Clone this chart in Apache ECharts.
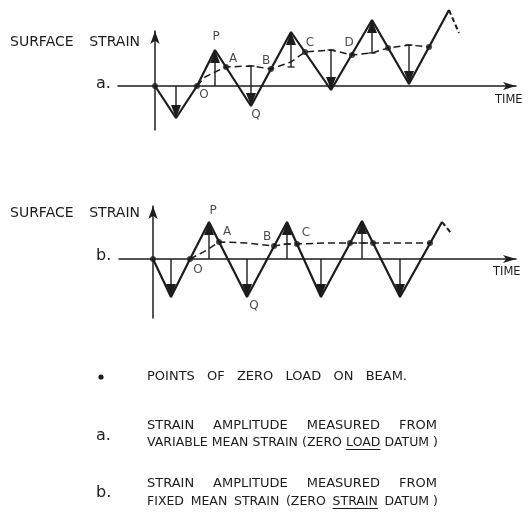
<!DOCTYPE html>
<html><head><meta charset="utf-8">
<script src="https://cdn.jsdelivr.net/npm/echarts@6/dist/echarts.min.js"></script>
<style>html,body{margin:0;padding:0;background:#fff}#c{width:528px;height:527px}</style>
</head><body><div id="c"></div>
<script>
// ---- Panel a : strain amplitude from variable mean strain (zero load datum) ----
const waveA = [[0,0],[2.1,-3.2],[4.2,0],[6.0,3.6],[9.6,-2.0],[13.6,5.4],[17.6,-0.4],[21.7,6.6],[25.4,0.2],[29.4,7.6]];
const waveTailA = [[29.4,7.6],[30.4,5.3]];
const meanA = [[4.2,0],[5.0,0.9],[6.0,1.4],[7.1,1.9],[9.6,2.0],[11.6,1.7],[13.6,2.4],[15.0,3.4],[17.6,3.6],[19.7,3.1],[21.7,3.3],[23.3,3.8],[25.4,4.1],[27.4,3.9]];
const zeroLoadA = [[0,0],[4.2,0],[7.1,1.9],[11.6,1.7],[15.0,3.4],[19.7,3.1],[23.3,3.8],[27.4,3.9]];
const arrowsA = [[2.1,0,-3.2],[6.0,0,3.6],[9.6,2.0,-2.0],[13.6,1.9,5.4],[17.6,3.6,-0.4],[21.7,3.3,6.6],[25.4,4.1,0.2]];
const ticksA = [[9.6,2.0],[13.6,1.9],[17.6,3.6],[21.7,3.3],[25.4,4.1]];
const labelsA = [['P',6.1,4.9],['A',7.8,2.7],['O',4.9,-0.9],['Q',10.1,-2.9],['B',11.1,2.5],['C',15.5,4.3],['D',19.4,4.3]];

// ---- Panel b : strain amplitude from fixed mean strain (zero strain datum) ----
const waveB = [[0,0],[1.8,-3.8],[3.7,0],[5.6,3.7],[9.4,-3.8],[13.4,3.7],[16.8,-3.8],[20.9,3.8],[24.7,-3.8],[28.9,3.7]];
const waveTailB = [[28.9,3.7],[29.8,2.6]];
const meanB = [[3.7,0],[5.4,0.9],[6.6,1.7],[9.4,1.6],[12.1,1.3],[13.4,1.5],[14.4,1.5],[17.0,1.6],[19.7,1.6],[22.0,1.6],[24.7,1.6],[27.7,1.6]];
const zeroLoadB = [[0,0],[3.7,0],[6.6,1.7],[12.1,1.3],[14.4,1.5],[19.7,1.6],[22.0,1.6],[27.7,1.6]];
const arrowsB = [[1.8,0,-3.8],[5.6,0,3.7],[9.4,0,-3.8],[13.4,0,3.7],[16.8,0,-3.8],[20.9,0,3.8],[24.7,0,-3.8]];
const ticksB = [[13.4,1.5],[20.9,1.6]];
const labelsB = [['P',6.0,4.8],['A',7.4,2.7],['O',4.5,-1.1],['Q',10.1,-4.7],['B',11.4,2.2],['C',15.3,2.6]];

// ---- text ----
const yTitleWords = ['SURFACE', 'STRAIN'];
const xTitle = 'TIME';
const legendDotWords = ['POINTS', 'OF', 'ZERO', 'LOAD', 'ON', 'BEAM.'];
const legendA1 = ['STRAIN', 'AMPLITUDE', 'MEASURED', 'FROM'];
const legendA2 = ['VARIABLE', 'MEAN', 'STRAIN', '(ZERO', 'LOAD', 'DATUM )'];
const legendB1 = ['STRAIN', 'AMPLITUDE', 'MEASURED', 'FROM'];
const legendB2 = ['FIXED', 'MEAN', 'STRAIN', '(ZERO', 'STRAIN', 'DATUM )'];

const INK = '#1c1c1c';
const FONT = 'DejaVu Sans';

const chart = echarts.init(document.getElementById('c'), null, {renderer:'canvas'});

function axisX(gi, min, max){
  return {gridIndex:gi, type:'value', min, max,
    axisLine:{show:true, onZero:true, symbol:['none','arrow'], symbolSize:[6,13], lineStyle:{color:INK, width:1.5}},
    axisTick:{show:false}, axisLabel:{show:false}, splitLine:{show:false}};
}
function axisY(gi, min, max){
  return {gridIndex:gi, type:'value', min, max,
    axisLine:{show:true, onZero:true, symbol:['none','arrow'], symbolSize:[7,13], lineStyle:{color:INK, width:1.5}},
    axisTick:{show:false}, axisLabel:{show:false}, splitLine:{show:false}};
}

function arrowRender(params, api){
  const t = api.value(0), s0 = api.value(1), s1 = api.value(2);
  const p0 = api.coord([t, s0]), p1 = api.coord([t, s1]);
  const dir = p1[1] < p0[1] ? -1 : 1;
  const headLen = 13, half = 5;
  const base = p1[1] - dir*headLen;
  return {type:'group', children:[
    {type:'line', shape:{x1:p0[0], y1:p0[1], x2:p1[0], y2:base}, style:{stroke:INK, lineWidth:1.4}},
    {type:'polygon', shape:{points:[[p1[0],p1[1]],[p1[0]-half,base],[p1[0]+half,base]]}, style:{fill:INK}}
  ]};
}

function panelSeries(gi, wave, tail, mean, zero, arrows, ticks, labels){
  return [
    {type:'line', xAxisIndex:gi, yAxisIndex:gi, data:wave, symbol:'none', clip:false,
      lineStyle:{color:INK, width:2.2}, z:3},
    {type:'line', xAxisIndex:gi, yAxisIndex:gi, data:tail, symbol:'none', clip:false,
      lineStyle:{color:INK, width:2, type:[5,3]}, z:3},
    {type:'line', xAxisIndex:gi, yAxisIndex:gi, data:mean, symbol:'none', clip:false,
      lineStyle:{color:INK, width:1.5, type:[7,4]}, z:2},
    {type:'custom', xAxisIndex:gi, yAxisIndex:gi, data:arrows, renderItem:arrowRender, clip:false, z:4},
    {type:'scatter', xAxisIndex:gi, yAxisIndex:gi, data:ticks, symbol:'rect', symbolSize:[7,1.6], clip:false,
      itemStyle:{color:INK}, z:4},
    {type:'scatter', xAxisIndex:gi, yAxisIndex:gi, data:zero, symbol:'circle', symbolSize:6, clip:false,
      itemStyle:{color:INK}, z:5},
    {type:'scatter', xAxisIndex:gi, yAxisIndex:gi, symbolSize:0, clip:false, z:6,
      data:labels.map(l=>({name:l[0], value:[l[1], l[2]]})),
      label:{show:true, position:'inside', formatter:'{b}', color:INK, fontFamily:FONT, fontSize:12}}
  ];
}

const mctx = document.createElement('canvas').getContext('2d');
function tw(s, size){ mctx.font = size+'px "'+FONT+'"'; return mctx.measureText(s).width; }

function txt(x, y, s, size){
  return {type:'text', x, y, silent:true,
    style:{text:s, fill:INK, font:size+'px "'+FONT+'"', verticalAlign:'middle'}};
}

// justified word layout between x0 and x1; word at index ul is underlined
function justify(words, x0, x1, y, size, ul){
  const ws = words.map(w => tw(w, size));
  const total = ws.reduce((a,b)=>a+b, 0);
  const gap = words.length > 1 ? (x1 - x0 - total)/(words.length - 1) : 0;
  const out = [];
  let x = x0;
  words.forEach((w, i) => {
    out.push(txt(x, y, w, size));
    if (i === ul) out.push({type:'line', silent:true,
      shape:{x1:x, y1:y+6.5, x2:x+ws[i], y2:y+6.5}, style:{stroke:INK, lineWidth:1}});
    x += ws[i] + gap;
  });
  return out;
}

const LX = 147;
const graphic = [
  ...justify(yTitleWords, 10, 140, 42, 14, -1),
  ...justify(yTitleWords, 10, 140, 213, 14, -1),
  txt(96, 84, 'a.', 16),
  txt(96, 256, 'b.', 16),
  txt(495, 100, xTitle, 11.5),
  txt(493, 272, xTitle, 11.5),
  {type:'circle', silent:true, shape:{cx:101, cy:377, r:2.6}, style:{fill:INK}},
  ...justify(legendDotWords, LX, 407, 377, 13, -1),
  txt(96, 436, 'a.', 16),
  ...justify(legendA1, LX, 437, 426, 13, -1),
  ...justify(legendA2, LX, 438, 443, 12.5, 4),
  txt(96, 493, 'b.', 16),
  ...justify(legendB1, LX, 437, 484, 13, -1),
  ...justify(legendB2, LX, 438, 502, 12.5, 4)
];

chart.setOption({
  animation:false,
  backgroundColor:'#fff',
  grid:[
    {left:118, top:31, width:398, height:99},
    {left:119, top:206, width:397, height:112}
  ],
  xAxis:[axisX(0, -3.7, 36.1), axisX(1, -3.4, 36.3)],
  yAxis:[axisY(0, -4.4, 5.5), axisY(1, -5.9, 5.3)],
  series:[
    ...panelSeries(0, waveA, waveTailA, meanA, zeroLoadA, arrowsA, ticksA, labelsA),
    ...panelSeries(1, waveB, waveTailB, meanB, zeroLoadB, arrowsB, ticksB, labelsB)
  ],
  graphic
});
</script>
</body></html>
